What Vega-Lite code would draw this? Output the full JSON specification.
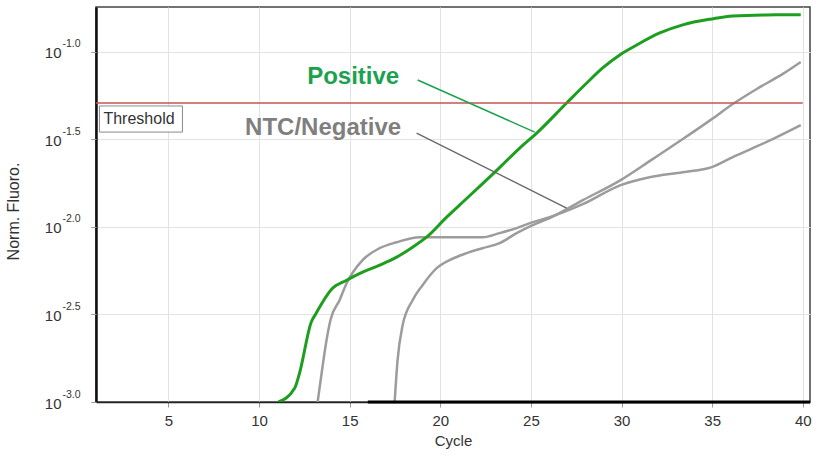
{
  "$schema": "https://vega.github.io/schema/vega-lite/v6.json",
  "width": 714,
  "height": 395,
  "autosize": {"type": "none"},
  "padding": {"left": 96, "top": 7, "right": 3, "bottom": 53},
  "background": "white",
  "config": {
    "view": {"stroke": "#444444", "strokeWidth": 1.5},
    "font": "Liberation Sans"
  },
  "datasets": {
    "curves": [
      {"series": "Positive", "cycle": 11.07, "fluor": 0.001},
      {"series": "Positive", "cycle": 11.96, "fluor": 0.001197},
      {"series": "Positive", "cycle": 12.23, "fluor": 0.001459},
      {"series": "Positive", "cycle": 12.88, "fluor": 0.002864},
      {"series": "Positive", "cycle": 13.15, "fluor": 0.003214},
      {"series": "Positive", "cycle": 14.0, "fluor": 0.004406},
      {"series": "Positive", "cycle": 14.83, "fluor": 0.004955},
      {"series": "Positive", "cycle": 15.71, "fluor": 0.005508},
      {"series": "Positive", "cycle": 16.65, "fluor": 0.006039},
      {"series": "Positive", "cycle": 17.59, "fluor": 0.006714},
      {"series": "Positive", "cycle": 18.47, "fluor": 0.007656},
      {"series": "Positive", "cycle": 19.24, "fluor": 0.008725},
      {"series": "Positive", "cycle": 20.35, "fluor": 0.01135},
      {"series": "Positive", "cycle": 21.06, "fluor": 0.0133},
      {"series": "Positive", "cycle": 23.27, "fluor": 0.02178},
      {"series": "Positive", "cycle": 24.38, "fluor": 0.02818},
      {"series": "Positive", "cycle": 25.32, "fluor": 0.03428},
      {"series": "Positive", "cycle": 26.97, "fluor": 0.05093},
      {"series": "Positive", "cycle": 28.08, "fluor": 0.06622},
      {"series": "Positive", "cycle": 28.96, "fluor": 0.08072},
      {"series": "Positive", "cycle": 29.9, "fluor": 0.09576},
      {"series": "Positive", "cycle": 30.84, "fluor": 0.1092},
      {"series": "Positive", "cycle": 32.11, "fluor": 0.1279},
      {"series": "Positive", "cycle": 33.38, "fluor": 0.1423},
      {"series": "Positive", "cycle": 34.98, "fluor": 0.1538},
      {"series": "Positive", "cycle": 36.14, "fluor": 0.16},
      {"series": "Positive", "cycle": 38.01, "fluor": 0.1622},
      {"series": "Positive", "cycle": 39.89, "fluor": 0.1626},
      {"series": "NTC1", "cycle": 13.23, "fluor": 0.001},
      {"series": "NTC1", "cycle": 13.45, "fluor": 0.001459},
      {"series": "NTC1", "cycle": 13.72, "fluor": 0.002254},
      {"series": "NTC1", "cycle": 13.95, "fluor": 0.00297},
      {"series": "NTC1", "cycle": 14.44, "fluor": 0.003811},
      {"series": "NTC1", "cycle": 14.83, "fluor": 0.004764},
      {"series": "NTC1", "cycle": 15.71, "fluor": 0.006457},
      {"series": "NTC1", "cycle": 16.65, "fluor": 0.007551},
      {"series": "NTC1", "cycle": 17.59, "fluor": 0.008166},
      {"series": "NTC1", "cycle": 18.86, "fluor": 0.008725},
      {"series": "NTC1", "cycle": 21.06, "fluor": 0.008725},
      {"series": "NTC1", "cycle": 22.33, "fluor": 0.008725},
      {"series": "NTC1", "cycle": 23.27, "fluor": 0.009204},
      {"series": "NTC1", "cycle": 24.21, "fluor": 0.00984},
      {"series": "NTC1", "cycle": 25.10, "fluor": 0.01064},
      {"series": "NTC1", "cycle": 26.03, "fluor": 0.01135},
      {"series": "NTC1", "cycle": 27.86, "fluor": 0.01346},
      {"series": "NTC1", "cycle": 29.95, "fluor": 0.0173},
      {"series": "NTC1", "cycle": 31.55, "fluor": 0.01919},
      {"series": "NTC1", "cycle": 33.38, "fluor": 0.02049},
      {"series": "NTC1", "cycle": 34.98, "fluor": 0.02191},
      {"series": "NTC1", "cycle": 36.14, "fluor": 0.025},
      {"series": "NTC1", "cycle": 38.01, "fluor": 0.03051},
      {"series": "NTC1", "cycle": 39.89, "fluor": 0.03808},
      {"series": "NTC2", "cycle": 17.48, "fluor": 0.001},
      {"series": "NTC2", "cycle": 17.64, "fluor": 0.00173},
      {"series": "NTC2", "cycle": 17.92, "fluor": 0.002742},
      {"series": "NTC2", "cycle": 18.47, "fluor": 0.003811},
      {"series": "NTC2", "cycle": 19.02, "fluor": 0.004646},
      {"series": "NTC2", "cycle": 19.80, "fluor": 0.005808},
      {"series": "NTC2", "cycle": 20.51, "fluor": 0.006457},
      {"series": "NTC2", "cycle": 21.45, "fluor": 0.007077},
      {"series": "NTC2", "cycle": 22.33, "fluor": 0.007551},
      {"series": "NTC2", "cycle": 23.27, "fluor": 0.008068},
      {"series": "NTC2", "cycle": 24.21, "fluor": 0.009204},
      {"series": "NTC2", "cycle": 25.10, "fluor": 0.01023},
      {"series": "NTC2", "cycle": 26.03, "fluor": 0.01121},
      {"series": "NTC2", "cycle": 27.86, "fluor": 0.01419},
      {"series": "NTC2", "cycle": 29.95, "fluor": 0.01849},
      {"series": "NTC2", "cycle": 31.55, "fluor": 0.02371},
      {"series": "NTC2", "cycle": 33.38, "fluor": 0.0317},
      {"series": "NTC2", "cycle": 34.98, "fluor": 0.04121},
      {"series": "NTC2", "cycle": 36.14, "fluor": 0.05023},
      {"series": "NTC2", "cycle": 37.46, "fluor": 0.06124},
      {"series": "NTC2", "cycle": 38.90, "fluor": 0.07464},
      {"series": "NTC2", "cycle": 39.89, "fluor": 0.0873}
    ]
  },
  "resolve": {"axis": {"y": "independent"}},
  "layer": [
    {
      "data": {"name": "curves"},
      "transform": [{"filter": "datum.series !== 'Positive'"}],
      "mark": {"type": "line", "color": "#9c9c9c", "strokeWidth": 2.5, "interpolate": "monotone", "clip": true},
      "encoding": {
        "x": {
          "field": "cycle", "type": "quantitative",
          "scale": {"domain": [1, 40.4], "nice": false, "zero": false},
          "axis": {
            "values": [5, 10, 15, 20, 25, 30, 35, 40],
            "title": "Cycle", "titleFontSize": 15, "titleFontWeight": "normal", "titleColor": "#333333", "titlePadding": 5,
            "labelFontSize": 15, "labelColor": "#333333", "labelPadding": 6, "labelFlush": false,
            "tickSize": 5, "tickColor": "#999999",
            "domainColor": "#222222", "domainWidth": 1.5,
            "grid": true, "gridColor": "#e3e3e3"
          }
        },
        "y": {
          "field": "fluor", "type": "quantitative",
          "scale": {"type": "log", "domain": [0.001, 0.1799], "nice": false},
          "axis": {
            "orient": "left",
            "values": [0.001, 0.0031623, 0.01, 0.031623, 0.1],
            "labelExpr": "'10'",
            "labelFontSize": 15, "labelColor": "#333333", "labelPadding": 30, "labelOffset": 1,
            "tickSize": 5, "tickColor": "#999999",
            "domainColor": "#111111", "domainWidth": 2.5,
            "grid": true, "gridColor": "#e3e3e3",
            "title": "Norm. Fluoro.", "titleFontSize": 16, "titleFontWeight": "normal", "titleColor": "#333333",
            "titleX": -83, "titleY": 204, "titleBaseline": "middle", "titleAngle": 270, "titleAlign": "center"
          }
        },
        "detail": {"field": "series"}
      }
    },
    {
      "data": {"name": "curves"},
      "transform": [{"filter": "datum.series === 'Positive'"}],
      "mark": {"type": "line", "color": "#1e9e1e", "strokeWidth": 3, "interpolate": "monotone", "clip": true},
      "encoding": {
        "x": {"field": "cycle", "type": "quantitative"},
        "y": {
          "field": "fluor", "type": "quantitative",
          "axis": {
            "orient": "left",
            "values": [0.001, 0.0031623, 0.01, 0.031623, 0.1],
            "labelExpr": "'-' + format(-log(datum.value) / LN10, '.1f')",
            "labelFontSize": 10.5, "labelColor": "#333333", "labelPadding": 11, "labelOffset": -8,
            "tickSize": 5, "tickColor": "#999999",
            "domain": false, "grid": false, "title": null
          }
        }
      }
    },
    {
      "data": {"values": [{}]},
      "mark": {"type": "rule", "color": "#c65353", "strokeWidth": 1.5},
      "encoding": {
        "x": {"datum": 1},
        "x2": {"datum": 40},
        "y": {"datum": 0.0509, "type": "quantitative", "axis": null}
      }
    },
    {
      "data": {"values": [{}]},
      "mark": {"type": "rule", "color": "#000000", "strokeWidth": 3},
      "encoding": {
        "x": {"datum": 16},
        "x2": {"datum": 40.4},
        "y": {"datum": 0.001, "type": "quantitative", "axis": null}
      }
    },
    {
      "data": {"values": [{}]},
      "mark": {"type": "rect", "fill": "white", "stroke": "#8a8a8a", "strokeWidth": 1},
      "encoding": {
        "x": {"datum": 1.19},
        "x2": {"datum": 5.77},
        "y": {"datum": 0.04898, "type": "quantitative", "axis": null},
        "y2": {"datum": 0.03475}
      }
    },
    {
      "data": {"values": [{"label": "Threshold"}]},
      "mark": {"type": "text", "align": "left", "baseline": "middle", "fontSize": 16, "color": "#333333"},
      "encoding": {
        "x": {"datum": 1.41},
        "y": {"datum": 0.04121, "type": "quantitative", "axis": null},
        "text": {"field": "label"}
      }
    },
    {
      "data": {"values": [{}]},
      "mark": {"type": "rule", "color": "#1ba14f", "strokeWidth": 1.5},
      "encoding": {
        "x": {"datum": 18.75},
        "y": {"datum": 0.06887, "type": "quantitative", "axis": null},
        "x2": {"datum": 25.21},
        "y2": {"datum": 0.03475}
      }
    },
    {
      "data": {"values": [{}]},
      "mark": {"type": "rule", "color": "#666666", "strokeWidth": 1.3},
      "encoding": {
        "x": {"datum": 18.69},
        "y": {"datum": 0.03428, "type": "quantitative", "axis": null},
        "x2": {"datum": 26.97},
        "y2": {"datum": 0.01279}
      }
    },
    {
      "data": {"values": [{"label": "Positive"}]},
      "mark": {"type": "text", "align": "center", "baseline": "middle", "fontSize": 24, "fontWeight": "bold", "color": "#1ba14f"},
      "encoding": {
        "x": {"datum": 15.19},
        "y": {"datum": 0.07166, "type": "quantitative", "axis": null},
        "text": {"field": "label"}
      }
    },
    {
      "data": {"values": [{"label": "NTC/Negative"}]},
      "mark": {"type": "text", "align": "center", "baseline": "middle", "fontSize": 24, "fontWeight": "bold", "color": "#7f7f7f"},
      "encoding": {
        "x": {"datum": 13.53},
        "y": {"datum": 0.03656, "type": "quantitative", "axis": null},
        "text": {"field": "label"}
      }
    }
  ]
}
